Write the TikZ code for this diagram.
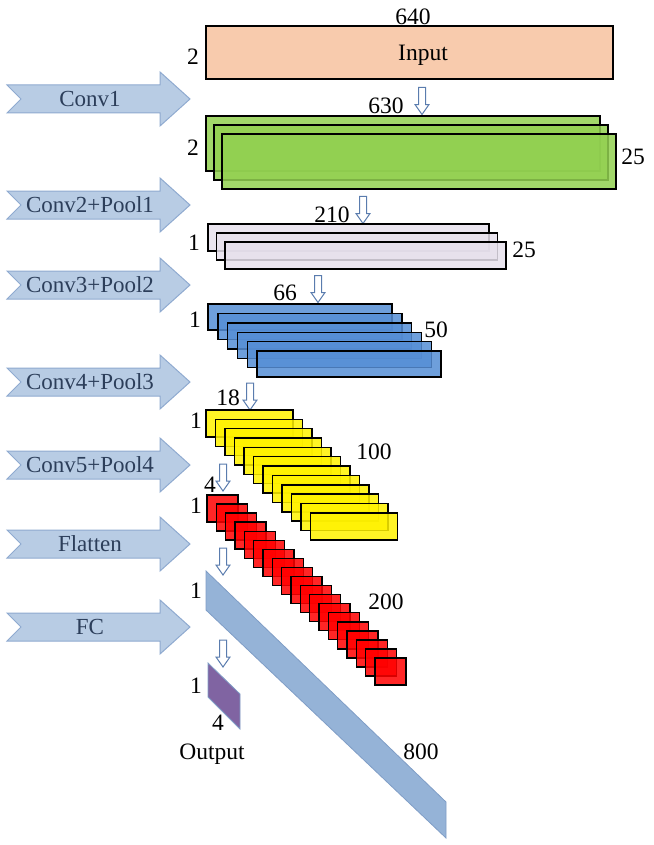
\documentclass[tikz,border=0pt]{standalone}
\usepackage{fontspec}
\setmainfont{Liberation Serif}
\usetikzlibrary{shapes.arrows, positioning}

\definecolor{inpeach}{HTML}{F8CBAD}
\definecolor{convgreen}{HTML}{92D050}
\definecolor{poollilac}{HTML}{E6E0EC}
\definecolor{poolblue}{HTML}{558ED5}
\definecolor{fcblue}{HTML}{95B3D7}
\definecolor{fcline}{HTML}{7F9DC6}
\definecolor{outpurple}{HTML}{8064A2}
\definecolor{stagefill}{HTML}{B8CCE4}
\definecolor{stageline}{HTML}{8FAAD0}
\definecolor{stageink}{HTML}{2C3E5A}
\definecolor{flowline}{HTML}{5A7CAE}

% one stage arrow on the left: name, centre y, text
\newcommand{\stagearrow}[3]{%
  \draw[stagebody] (7,#2-14) -- (160,#2-14) -- (160,#2-27) -- (190,#2)
    -- (160,#2+27) -- (160,#2+14) -- (7,#2+14) -- (21,#2) -- cycle;
  \node[stagetext] (#1) at (90,#2) {#3};}

\begin{document}
\begin{tikzpicture}[
    x=1pt, y=-1pt,
    stagebody/.style={fill=stagefill, draw=stageline, line width=1pt},
    stagetext/.style={text=stageink, font=\fontsize{23}{25}\selectfont, inner sep=0pt},
    dim/.style={font=\fontsize{23.5}{25}\selectfont, inner sep=0pt},
    layer/.style={draw=black, line width=1.4pt, fill opacity=0.85},
    downarrow/.style={single arrow, draw=flowline, fill=white, line width=1pt, rotate=-90,
        minimum height=27pt, minimum width=13pt, inner sep=3pt,
        single arrow head extend=3.5pt, single arrow tip angle=70}
  ]
  \useasboundingbox (0,0) rectangle (653,845);

  % Stage arrows
  \stagearrow{conv1}{99}{Conv1}
  \stagearrow{conv2}{205}{Conv2+Pool1}
  \stagearrow{conv3}{285}{Conv3+Pool2}
  \stagearrow{conv4}{382}{Conv4+Pool3}
  \stagearrow{conv5}{465}{Conv5+Pool4}
  \stagearrow{flat}{544}{Flatten}
  \stagearrow{fc}{627}{FC}

  % Input
  \draw[layer, fill=inpeach, fill opacity=1] (206,26) rectangle (613,79);
  \node[dim] (input) at (423,55) {Input};
  \node[dim] (w-in) at (413,17) {640};
  \node[dim] (h-in) at (193,57) {2};
  \node[downarrow] (d1) at (422,98.5) {};

  % Conv1 maps
  \foreach \i in {0,...,2}
    \draw[layer, fill=convgreen] ({206+8*\i},{116+9*\i}) rectangle ++(394,55);
  \node[dim] (w-c1) at (386,106) {630};
  \node[dim] (h-c1) at (193,148) {2};
  \node[dim] (n-c1) at (633,157) {25};
  \node[downarrow] (d2) at (363,207.5) {};

  % Conv2 + Pool1
  \foreach \i in {0,...,2}
    \draw[layer, fill=poollilac] ({208+8.5*\i},{224+9*\i}) rectangle ++(281,27);
  \node[dim] (w-p1) at (332,215) {210};
  \node[dim] (h-p1) at (194,243) {1};
  \node[dim] (n-p1) at (524,250) {25};
  \node[downarrow] (d3) at (318,286.5) {};

  % Conv3 + Pool2
  \foreach \i in {0,...,5}
    \draw[layer, fill=poolblue] ({208+9.8*\i},{304+9.4*\i}) rectangle ++(184,26);
  \node[dim] (w-p2) at (285,293) {66};
  \node[dim] (h-p2) at (195,320) {1};
  \node[dim] (n-p2) at (436,330) {50};
  \node[downarrow] (d4) at (250,394) {};

  % Conv4 + Pool3
  \foreach \i in {0,...,11}
    \draw[layer, fill=yellow] ({206+9.5*\i},{410+9.35*\i}) rectangle ++(87,27);
  \node[dim] (w-p3) at (228,398) {18};
  \node[dim] (h-p3) at (196,421) {1};
  \node[dim] (n-p3) at (374,452) {100};
  \node[downarrow] (d5) at (223,475) {};

  % Conv5 + Pool4
  \foreach \i in {0,...,18}
    \draw[layer, fill=red] ({207+9.33*\i},{495+9.06*\i}) rectangle ++(31,27);
  \node[dim] (w-p4) at (210,485) {4};
  \node[dim] (h-p4) at (196,506) {1};
  \node[dim] (n-p4) at (386,602) {200};
  \node[downarrow] (d6) at (223,559) {};

  % Flatten vector
  \draw[fill=fcblue, draw=fcline, line width=0.8pt] (206,571) -- (446,802) -- (446,838) -- (206,610) -- cycle;
  \node[dim] (h-fc) at (196,591) {1};
  \node[dim] (n-fc) at (421,752) {800};
  \node[downarrow] (d7) at (223,651) {};

  % Output
  \draw[fill=outpurple, draw=fcline, line width=0.8pt] (208,663) -- (240,694) -- (240,729) -- (208,697) -- cycle;
  \node[dim] (h-out) at (196,686) {1};
  \node[dim] (n-out) at (218,723) {4};
  \node[dim] (output) at (212,754) {Output};

\end{tikzpicture}
\end{document}
